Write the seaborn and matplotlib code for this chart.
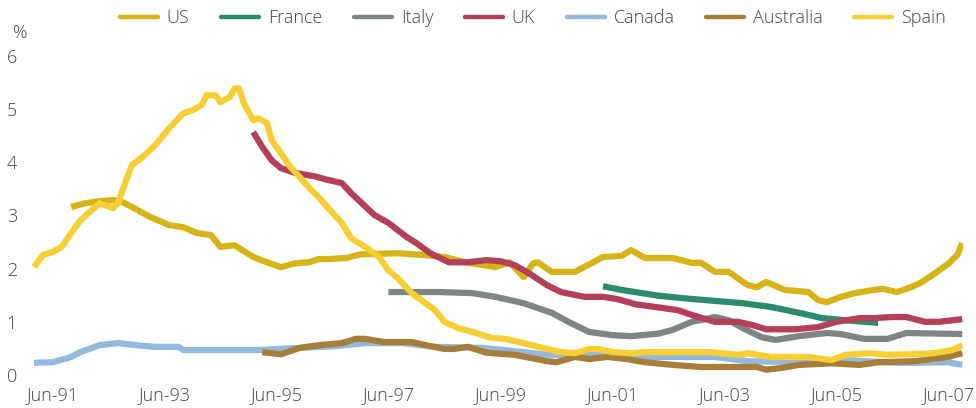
import matplotlib
matplotlib.use('Agg')

import seaborn as sns
import pandas as pd
import matplotlib.pyplot as plt
from matplotlib.lines import Line2D

# --- data (monthly, %) ---
us_dates = ['1991-10', '1992-01', '1992-04', '1992-07', '1992-09', '1992-11', '1993-03', '1993-07',
            '1993-10', '1994-01', '1994-04', '1994-06', '1994-09', '1995-01', '1995-04', '1995-07',
            '1995-10', '1996-01', '1996-03', '1996-05', '1996-09', '1996-12', '1997-08', '1998-01',
            '1998-06', '1998-11', '1999-05', '1999-08', '1999-11', '2000-01', '2000-02', '2000-05',
            '2000-10', '2001-04', '2001-08', '2001-10', '2002-01', '2002-07', '2002-11', '2003-01',
            '2003-04', '2003-07', '2003-11', '2004-01', '2004-03', '2004-07', '2004-12', '2005-02',
            '2005-04', '2005-07', '2005-10', '2006-02', '2006-04', '2006-07', '2006-10', '2006-12',
            '2007-03', '2007-06', '2007-08', '2007-09']
us_vals = [3.16, 3.23, 3.27, 3.29, 3.25, 3.16, 2.97, 2.82,
           2.78, 2.67, 2.63, 2.41, 2.44, 2.22, 2.12, 2.03,
           2.10, 2.12, 2.18, 2.18, 2.20, 2.27, 2.29, 2.26,
           2.22, 2.11, 2.03, 2.12, 1.84, 2.10, 2.12, 1.94,
           1.94, 2.22, 2.24, 2.35, 2.20, 2.20, 2.11, 2.11,
           1.94, 1.94, 1.69, 1.65, 1.75, 1.60, 1.56, 1.41,
           1.37, 1.47, 1.54, 1.60, 1.62, 1.56, 1.65, 1.73,
           1.90, 2.09, 2.26, 2.48]

france_dates = ['2001-04', '2001-08', '2002-04', '2002-11', '2003-10', '2004-04', '2004-10',
                '2005-03', '2005-08', '2006-03']
france_vals = [1.67, 1.60, 1.49, 1.43, 1.35, 1.28, 1.17, 1.07, 1.03, 0.98]

italy_dates = ['1997-06', '1998-05', '1998-12', '1999-05', '1999-11', '2000-05', '2000-09', '2001-01',
               '2001-06', '2001-10', '2002-04', '2002-07', '2002-11', '2003-04', '2003-07', '2003-10',
               '2004-02', '2004-05', '2004-10', '2005-04', '2005-07', '2005-12', '2006-05', '2006-09',
               '2007-09']
italy_vals = [1.56, 1.56, 1.54, 1.47, 1.35, 1.17, 0.98, 0.81,
              0.75, 0.73, 0.78, 0.85, 1.00, 1.09, 1.03, 0.88,
              0.71, 0.66, 0.73, 0.79, 0.77, 0.68, 0.68, 0.79,
              0.77]

uk_dates = ['1995-01', '1995-03', '1995-05', '1995-07', '1995-10', '1996-02', '1996-05', '1996-08',
            '1996-10', '1997-03', '1997-06', '1997-10', '1997-12', '1998-03', '1998-07', '1998-11',
            '1999-03', '1999-06', '1999-09', '1999-12', '2000-04', '2000-07', '2000-12', '2001-04',
            '2001-07', '2001-11', '2002-04', '2002-08', '2002-11', '2003-04', '2003-09', '2003-12',
            '2004-03', '2004-09', '2005-02', '2005-06', '2005-11', '2006-02', '2006-06', '2006-09',
            '2007-01', '2007-04', '2007-09']
uk_vals = [4.57, 4.29, 4.04, 3.89, 3.80, 3.74, 3.67, 3.61,
           3.42, 3.01, 2.86, 2.59, 2.48, 2.29, 2.12, 2.12,
           2.16, 2.14, 2.07, 1.92, 1.69, 1.56, 1.47, 1.47,
           1.43, 1.33, 1.27, 1.22, 1.13, 1.00, 1.00, 0.94,
           0.86, 0.86, 0.90, 1.00, 1.07, 1.07, 1.09, 1.09,
           1.00, 1.00, 1.05]

canada_dates = ['1991-02', '1991-06', '1991-10', '1991-12', '1992-04', '1992-08', '1992-12', '1993-04',
                '1993-09', '1993-10', '1995-02', '1995-11', '1996-06', '1997-01', '1997-09', '1998-04',
                '1999-02', '1999-09', '2000-04', '2001-01', '2002-01', '2003-04', '2003-11', '2005-01',
                '2005-08', '2006-07', '2006-11', '2007-06', '2007-09']
canada_vals = [0.23, 0.24, 0.34, 0.43, 0.56, 0.60, 0.56, 0.53,
               0.53, 0.47, 0.47, 0.51, 0.54, 0.60, 0.60, 0.53,
               0.51, 0.45, 0.38, 0.38, 0.34, 0.34, 0.26, 0.24,
               0.28, 0.23, 0.23, 0.24, 0.19]

australia_dates = ['1995-03', '1995-07', '1995-11', '1996-03', '1996-08', '1996-11', '1997-01', '1997-05',
                   '1997-11', '1998-02', '1998-06', '1998-08', '1998-11', '1999-03', '1999-09', '2000-04',
                   '2000-06', '2000-10', '2001-01', '2001-05', '2001-09', '2002-01', '2002-07', '2003-01',
                   '2004-01', '2004-03', '2004-06', '2004-10', '2005-05', '2005-11', '2006-03', '2006-11',
                   '2007-06', '2007-09']
australia_vals = [0.43, 0.39, 0.51, 0.56, 0.60, 0.68, 0.68, 0.62,
                  0.62, 0.56, 0.49, 0.49, 0.53, 0.42, 0.38, 0.26,
                  0.24, 0.34, 0.30, 0.34, 0.30, 0.24, 0.19, 0.15,
                  0.15, 0.10, 0.13, 0.19, 0.22, 0.19, 0.24, 0.26,
                  0.34, 0.41]

spain_dates = ['1991-02', '1991-04', '1991-06', '1991-08', '1991-10', '1991-12', '1992-04', '1992-07',
               '1992-08', '1992-10', '1992-11', '1993-01', '1993-04', '1993-07', '1993-10', '1993-12',
               '1994-02', '1994-03', '1994-05', '1994-06', '1994-08', '1994-09', '1994-10', '1994-11',
               '1995-01', '1995-02', '1995-04', '1995-05', '1995-07', '1995-09', '1995-11', '1996-01',
               '1996-03', '1996-05', '1996-08', '1996-10', '1997-01', '1997-04', '1997-06', '1997-08',
               '1997-11', '1998-01', '1998-04', '1998-06', '1998-09', '1998-12', '1999-04', '1999-07',
               '1999-11', '2000-03', '2000-07', '2000-10', '2001-01', '2001-03', '2001-06', '2001-10',
               '2002-01', '2002-04', '2003-03', '2003-09', '2003-11', '2004-04', '2004-12', '2005-05',
               '2005-08', '2006-01', '2006-05', '2006-10', '2007-03', '2007-07', '2007-09']
spain_vals = [2.03, 2.26, 2.31, 2.41, 2.67, 2.91, 3.23, 3.14,
              3.23, 3.72, 3.95, 4.08, 4.32, 4.64, 4.92, 4.98,
              5.08, 5.26, 5.26, 5.13, 5.23, 5.39, 5.39, 5.11,
              4.79, 4.83, 4.74, 4.42, 4.17, 3.91, 3.72, 3.52,
              3.35, 3.15, 2.86, 2.57, 2.41, 2.22, 1.97, 1.82,
              1.54, 1.41, 1.22, 1.00, 0.88, 0.81, 0.70, 0.68,
              0.60, 0.51, 0.43, 0.41, 0.49, 0.49, 0.43, 0.41,
              0.43, 0.43, 0.43, 0.38, 0.41, 0.34, 0.34, 0.28,
              0.38, 0.41, 0.38, 0.39, 0.41, 0.47, 0.56]

countries = ['US', 'France', 'Italy', 'UK', 'Canada', 'Australia', 'Spain']
colors = ['#D6B316', '#2C8A6E', '#7F8583', '#B33F59', '#93B9DE', '#A67E3A', '#F7CE33']
tick_labels = ['Jun-91', 'Jun-93', 'Jun-95', 'Jun-97', 'Jun-99', 'Jun-01', 'Jun-03', 'Jun-05', 'Jun-07']

series = {
    'US': (us_dates, us_vals),
    'France': (france_dates, france_vals),
    'Italy': (italy_dates, italy_vals),
    'UK': (uk_dates, uk_vals),
    'Canada': (canada_dates, canada_vals),
    'Australia': (australia_dates, australia_vals),
    'Spain': (spain_dates, spain_vals),
}

frames = []
for name in countries:
    d, v = series[name]
    frames.append(pd.DataFrame({'Date': pd.to_datetime(d), 'Value': v, 'Country': name}))
df = pd.concat(frames, ignore_index=True)

sns.set_theme(style='white')
plt.rcParams['font.family'] = ['Open Sans', 'DejaVu Sans']
plt.rcParams['font.weight'] = 'light'
text_color = '#454545'
fs = 13

fig = plt.figure(figsize=(9.76, 4.08), dpi=100)
ax = fig.add_axes([31 / 976, 33 / 408, 932 / 976, 319 / 408])

palette = dict(zip(countries, colors))
sns.lineplot(data=df, x='Date', y='Value', hue='Country', hue_order=countries,
             palette=palette, linewidth=4.5, legend=False, ax=ax,
             solid_joinstyle='round', solid_capstyle='butt')

ax.set_ylim(0, 6)
ax.set_xlim(pd.Timestamp('1991-01-12'), pd.Timestamp('2007-09-06'))
ax.set_yticks(range(0, 7))
ax.set_xticks([pd.Timestamp(f'{y}-06-01') for y in range(1991, 2008, 2)])
ax.set_xticklabels(tick_labels)
ax.tick_params(axis='both', length=0, labelsize=fs, colors=text_color)
ax.tick_params(axis='y', pad=10)
ax.tick_params(axis='x', pad=8)
ax.set_xlabel('')
ax.set_ylabel('')
for s in ax.spines.values():
    s.set_visible(False)
ax.grid(False)

fig.text(13 / 976, 1 - 33 / 408, '%', fontsize=fs, color=text_color, va='center', ha='left')

handles = [Line2D([0], [0], color=c, linewidth=3.2) for c in colors]
fig.legend(handles, countries, loc='center', bbox_to_anchor=(0.546, 1 - 18 / 408),
           ncol=7, frameon=False, fontsize=fs, handlelength=2.1, handletextpad=0.5,
           columnspacing=1.75, labelcolor=text_color, borderaxespad=0)

fig.savefig('out.png', dpi=100)
